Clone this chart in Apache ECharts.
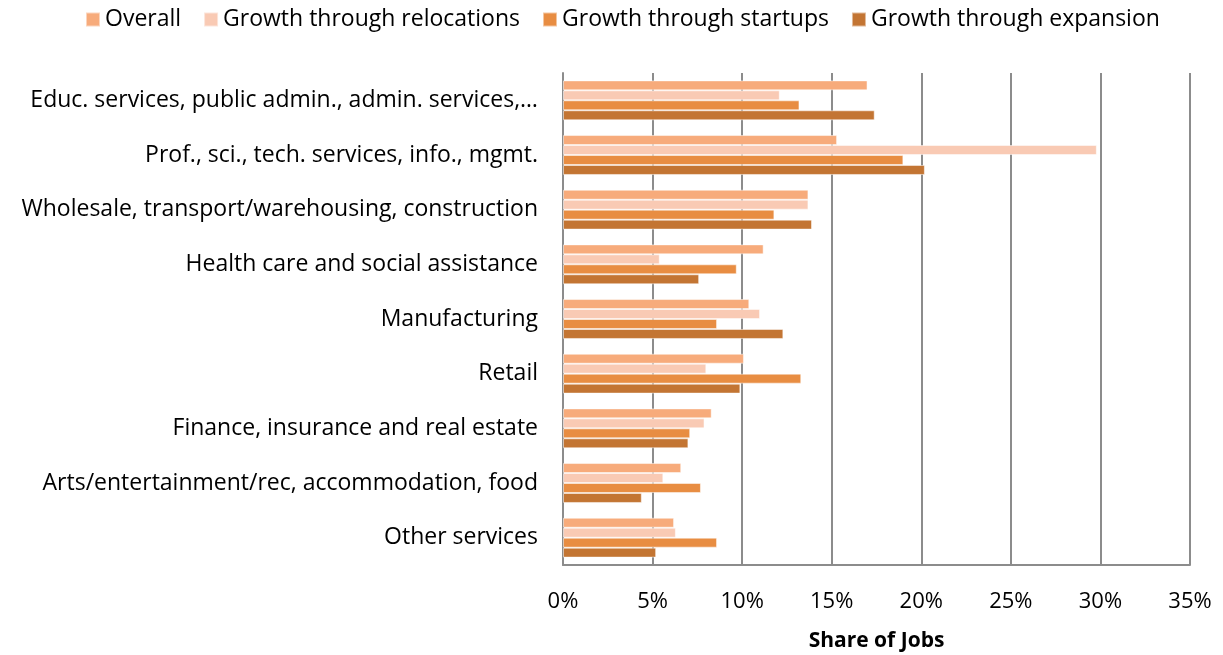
<!DOCTYPE html>
<html>
<head>
<meta charset="utf-8">
<script src="https://cdn.jsdelivr.net/npm/echarts@6/dist/echarts.min.js"></script>
<style>
  html, body { margin: 0; padding: 0; background: #fff; }
  #chart { width: 1223px; height: 655px; }
</style>
</head>
<body>
<div id="chart"></div>
<script>
var categories = [
    'Educ. services, public admin., admin. services,\u2026',
    'Prof., sci., tech. services, info., mgmt.',
    'Wholesale, transport/warehousing, construction',
    'Health care and social assistance',
    'Manufacturing',
    'Retail',
    'Finance, insurance and real estate',
    'Arts/entertainment/rec, accommodation, food',
    'Other services'
];
var seriesNames = ['Overall', 'Growth through relocations', 'Growth through startups', 'Growth through expansion'];
var overall     = [17.0, 15.3, 13.7, 11.2, 10.4, 10.1, 8.3, 6.6, 6.2];
var relocations = [12.1, 29.8, 13.7, 5.4, 11.0, 8.0, 7.9, 5.6, 6.3];
var startups    = [13.2, 19.0, 11.8, 9.7, 8.6, 13.3, 7.1, 7.7, 8.6];
var expansion   = [17.4, 20.2, 13.9, 7.6, 12.3, 9.9, 7.0, 4.4, 5.2];
var colors = ['#F7AB7B', '#F9CAB4', '#E88D42', '#C37533'];

var font = '"Open Sans", Calibri, sans-serif';

function makeSeries(name, data, color) {
    return {
        name: name,
        type: 'bar',
        data: data,
        barGap: 0,
        barCategoryGap: '27%',
        itemStyle: {
            color: color,
            borderColor: 'rgba(255,255,255,0.5)',
            borderWidth: 1
        }
    };
}

var option = {
    animation: false,
    color: colors,
    textStyle: { fontFamily: font },
    legend: {
        top: 3,
        left: 80,
        itemWidth: 14,
        itemHeight: 14,
        itemGap: 22,
        icon: 'rect',
        textStyle: { fontSize: 23, color: '#000', fontFamily: font },
        data: seriesNames
    },
    grid: {
        left: 563,
        right: 33,
        top: 73,
        bottom: 90,
        outerBoundsMode: 'none'
    },
    xAxis: {
        type: 'value',
        min: 0,
        max: 35,
        interval: 5,
        name: 'Share of Jobs',
        nameLocation: 'middle',
        nameGap: 66,
        nameTextStyle: { fontSize: 21, fontWeight: 'bold', color: '#000', fontFamily: font },
        axisLine: { show: true, lineStyle: { color: '#8c8c8c', width: 2 } },
        axisTick: { show: false },
        axisLabel: {
            fontSize: 22,
            color: '#000',
            margin: 26,
            fontFamily: font,
            formatter: function (v) { return v + '%'; }
        },
        splitLine: { show: true, lineStyle: { color: '#8c8c8c', width: 2 } }
    },
    yAxis: {
        type: 'category',
        inverse: true,
        data: categories,
        axisLine: { show: true, lineStyle: { color: '#8c8c8c', width: 2 } },
        axisTick: { show: false },
        axisLabel: { fontSize: 23, color: '#000', margin: 25, fontFamily: font }
    },
    series: [
        makeSeries(seriesNames[0], overall, colors[0]),
        makeSeries(seriesNames[1], relocations, colors[1]),
        makeSeries(seriesNames[2], startups, colors[2]),
        makeSeries(seriesNames[3], expansion, colors[3])
    ]
};

var myChart = echarts.init(document.getElementById('chart'));
myChart.setOption(option);
</script>
</body>
</html>
